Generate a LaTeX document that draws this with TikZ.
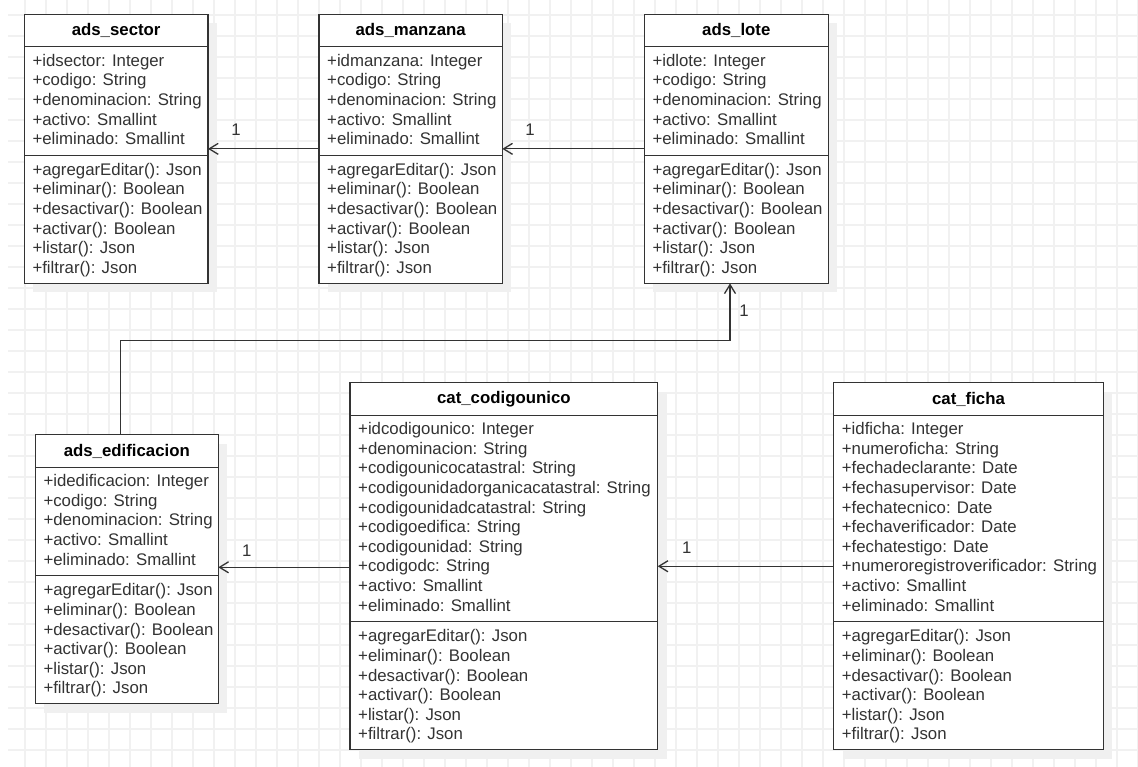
\documentclass[tikz,border=0pt]{standalone}
\usepackage{fontspec}
\setmainfont{Liberation Sans}
\usetikzlibrary{arrows.meta}
\definecolor{ink}{HTML}{333333}
\definecolor{gridcol}{HTML}{F1F1F1}
\definecolor{shadowcol}{HTML}{F0F0F0}
\tikzset{
  gridline/.style={draw=gridcol, line width=1.1pt},
  classbox/.style={draw=ink, fill=white, line width=1.3pt, rectangle, inner sep=0pt, outer sep=0pt},
  boxline/.style={draw=ink, line width=1.3pt},
  member/.style={anchor=base west, inner sep=0pt, text=ink, font=\fontsize{16.8}{19.6}\selectfont},
  titlefont/.style={inner sep=0pt, text=black, font=\fontsize{16.8}{19.6}\selectfont\bfseries},
  mult/.style={inner sep=0pt, text=ink, font=\fontsize{16.8}{19.6}\selectfont},
  assoc/.style={draw=ink, line width=1.3pt, -{Straight Barb[length=9pt,width=11pt]}},
}
\newcommand\umlclass[7]{%
  \pgfmathsetmacro\cHb{#3+32.5}%
  \pgfmathsetmacro\cDv{\cHb+19.5+(#7-1)*19.6+10.7}%
  \pgfmathsetmacro\cBt{\cDv+128}%
  \pgfmathsetmacro\cXr{#2+#4}%
  \pgfmathsetmacro\cHH{\cBt-#3}%
  \fill[shadowcol] (#2+9,#3+9) rectangle (\cXr+9,\cBt+9);
  \node[classbox, minimum width=#4pt, minimum height=\cHH pt, anchor=north west] (#1) at (#2,#3) {};
  \node[titlefont] (#1-t) at (#2+#4/2,#3+16.25) {#5};
  \draw[boxline] (#2,\cHb) -- (\cXr,\cHb);
  \draw[boxline] (#2,\cDv) -- (\cXr,\cDv);
  \foreach \t [count=\i] in {#6} {\node[member] (#1-a\i) at (#2+8,\cHb+19.5+\i*19.6-19.6) {\t};}
  \foreach \t [count=\i] in {+agregarEditar(): Json,+eliminar(): Boolean,+desactivar(): Boolean,+activar(): Boolean,+listar(): Json,+filtrar(): Json}
    {\node[member] (#1-m\i) at (#2+8,\cDv+20+\i*19.6-19.6) {\t};}
}
\begin{document}
\begin{tikzpicture}[x=1pt,y=-1pt]
\useasboundingbox (0,0) rectangle (1138,767);
\fill[white] (0,0) rectangle (1138,767);
\foreach \x in {25,46,...,1138} \draw[gridline] (\x,0) -- (\x,767);
\foreach \y in {15,36,...,767} \draw[gridline] (8,\y) -- (1138,\y);

\umlclass{sector}{24.3}{14.3}{183.7}{ads\_sector}{+idsector: Integer,+codigo: String,+denominacion: String,+activo: Smallint,+eliminado: Smallint}{5}
\umlclass{manzana}{319}{14.3}{183.3}{ads\_manzana}{+idmanzana: Integer,+codigo: String,+denominacion: String,+activo: Smallint,+eliminado: Smallint}{5}
\umlclass{lote}{644.3}{14.3}{184}{ads\_lote}{+idlote: Integer,+codigo: String,+denominacion: String,+activo: Smallint,+eliminado: Smallint}{5}
\umlclass{edif}{35.3}{434.7}{183}{ads\_edificacion}{+idedificacion: Integer,+codigo: String,+denominacion: String,+activo: Smallint,+eliminado: Smallint}{5}
\umlclass{codig}{350}{382.7}{307.7}{cat\_codigounico}{+idcodigounico: Integer,+denominacion: String,+codigounicocatastral: String,+codigounidadorganicacatastral: String,+codigounidadcatastral: String,+codigoedifica: String,+codigounidad: String,+codigodc: String,+activo: Smallint,+eliminado: Smallint}{10}
\umlclass{ficha}{833.7}{382.7}{269.6}{cat\_ficha}{+idficha: Integer,+numeroficha: String,+fechadeclarante: Date,+fechasupervisor: Date,+fechatecnico: Date,+fechaverificador: Date,+fechatestigo: Date,+numeroregistroverificador: String,+activo: Smallint,+eliminado: Smallint}{10}

\coordinate (bend1) at (120.5,340.7);
\coordinate (bend2) at (730,340.7);
\coordinate (ylow) at (0,567.3);

\draw[assoc] (manzana.west |- sector.east) -- (sector.east);
\draw[assoc] (lote.west) -- (manzana.east);
\draw[assoc] (edif.north -| bend1) -- (bend1) -- (bend2) -- (lote.south -| bend2);
\draw[assoc] (codig.west |- ylow) -- (edif.east |- ylow);
\draw[assoc] (ficha.west |- codig.east) -- (codig.east);

\node[mult] (l1) at (236,130) {1};
\node[mult] (l2) at (530,130) {1};
\node[mult] (l3) at (744,311) {1};
\node[mult] (l4) at (246.7,551) {1};
\node[mult] (l5) at (686.7,548) {1};
\end{tikzpicture}
\end{document}
